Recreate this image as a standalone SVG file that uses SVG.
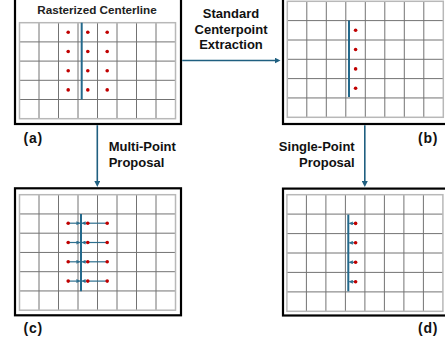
<svg xmlns="http://www.w3.org/2000/svg" width="445" height="343" viewBox="0 0 445 343">
  <style>
    .frame { fill: #ffffff; stroke: #000000; stroke-width: 2.2; }
    .cells { fill: none; stroke: #737373; stroke-width: 1; }
    .edge { fill: none; stroke: #b8b8b8; stroke-width: 1.5; }
    .center { stroke: #23698c; stroke-width: 2; fill: none; }
    .pt { fill: #c00000; }
    .probe { stroke: #2d6f8e; stroke-width: 1.2; fill: none; marker-end: url(#tip-small); }
    .flow { stroke: #1f5f80; stroke-width: 1.6; fill: none; marker-end: url(#tip); }
    .lbl { font-family: "Liberation Sans", Arial, sans-serif; font-weight: bold; font-size: 13px; fill: #111111; }
    .title { font-family: "Liberation Sans", Arial, sans-serif; font-weight: bold; font-size: 11.7px; fill: #222222; }
    .tag { font-family: "Liberation Sans", Arial, sans-serif; font-weight: bold; font-size: 14px; letter-spacing: 0.8px; fill: #111111; }
  </style>
  <defs>
    <marker id="tip" viewBox="0 0 6 6" refX="1" refY="3" markerWidth="6" markerHeight="6" markerUnits="userSpaceOnUse" orient="auto">
      <path d="M0,0 L6,3 L0,6 z" fill="#1f5f80"/>
    </marker>
    <marker id="tip-small" viewBox="0 0 6 6" refX="5" refY="3" markerWidth="4" markerHeight="4" markerUnits="userSpaceOnUse" orient="auto">
      <path d="M0,0 L6,3 L0,6 z" fill="#2d6f8e"/>
    </marker>
  </defs>

  <!-- (a) rasterized centerline with candidate cells -->
  <g id="panel-a">
    <rect class="frame" x="15" y="-10" width="166" height="134"/>
    <text class="title" x="97" y="14.3" text-anchor="middle">Rasterized Centerline</text>
    <path class="cells" d="M39 22.7V118.7M58.5 22.7V118.7M78 22.7V118.7M97.5 22.7V118.7M117 22.7V118.7M136.5 22.7V118.7M156 22.7V118.7M19.5 41.9H175.5M19.5 61.1H175.5M19.5 80.3H175.5M19.5 99.5H175.5"/>
    <rect class="edge" x="19.5" y="22.7" width="156" height="96"/>
    <line class="center" x1="81.7" y1="22.7" x2="81.7" y2="99.5"/>
    <g>
      <circle class="pt" cx="68.2" cy="32.3" r="1.8"/><circle class="pt" cx="87.8" cy="32.3" r="1.8"/><circle class="pt" cx="107.2" cy="32.3" r="1.8"/>
      <circle class="pt" cx="68.2" cy="51.5" r="1.8"/><circle class="pt" cx="87.8" cy="51.5" r="1.8"/><circle class="pt" cx="107.2" cy="51.5" r="1.8"/>
      <circle class="pt" cx="68.2" cy="70.7" r="1.8"/><circle class="pt" cx="87.8" cy="70.7" r="1.8"/><circle class="pt" cx="107.2" cy="70.7" r="1.8"/>
      <circle class="pt" cx="68.2" cy="89.9" r="1.8"/><circle class="pt" cx="87.8" cy="89.9" r="1.8"/><circle class="pt" cx="107.2" cy="89.9" r="1.8"/>
    </g>
    <text class="tag" x="23.5" y="143">(a)</text>
  </g>

  <!-- (b) standard centerpoint extraction -->
  <g id="panel-b">
    <rect class="frame" x="283" y="-10" width="170" height="134"/>
    <path class="cells" d="M306.8 1.3V117.3M326.3 1.3V117.3M345.8 1.3V117.3M365.3 1.3V117.3M384.8 1.3V117.3M404.3 1.3V117.3M423.8 1.3V117.3M287.3 20.6H443.3M287.3 40H443.3M287.3 59.3H443.3M287.3 78.6H443.3M287.3 97.95H443.3"/>
    <rect class="edge" x="287.3" y="1.3" width="156" height="116"/>
    <line class="center" x1="349" y1="20.6" x2="349" y2="97"/>
    <circle class="pt" cx="355.6" cy="30.2" r="1.8"/>
    <circle class="pt" cx="355.6" cy="49.5" r="1.8"/>
    <circle class="pt" cx="355.6" cy="68.9" r="1.8"/>
    <circle class="pt" cx="355.6" cy="88.2" r="1.8"/>
    <text class="tag" x="418" y="143">(b)</text>
  </g>

  <!-- (c) multi-point proposal -->
  <g id="panel-c">
    <rect class="frame" x="15" y="188.3" width="166" height="127"/>
    <path class="cells" d="M39 194.7V310.2M58.5 194.7V310.2M78 194.7V310.2M97.5 194.7V310.2M117 194.7V310.2M136.5 194.7V310.2M156 194.7V310.2M19.5 213.95H175.5M19.5 233.2H175.5M19.5 252.45H175.5M19.5 271.7H175.5M19.5 290.95H175.5"/>
    <rect class="edge" x="19.5" y="194.7" width="156" height="115.5"/>
    <line class="center" x1="81" y1="214" x2="81" y2="291.3"/>
    <g>
      <path class="probe" d="M68.2 223.2H79.8"/><path class="probe" d="M107.2 223.2H82.2"/>
      <path class="probe" d="M68.2 242.5H79.8"/><path class="probe" d="M107.2 242.5H82.2"/>
      <path class="probe" d="M68.2 261.8H79.8"/><path class="probe" d="M107.2 261.8H82.2"/>
      <path class="probe" d="M68.2 281.1H79.8"/><path class="probe" d="M107.2 281.1H82.2"/>
    </g>
    <g>
      <circle class="pt" cx="68.2" cy="223.2" r="1.8"/><circle class="pt" cx="87.8" cy="223.2" r="1.8"/><circle class="pt" cx="107.2" cy="223.2" r="1.8"/>
      <circle class="pt" cx="68.2" cy="242.5" r="1.8"/><circle class="pt" cx="87.8" cy="242.5" r="1.8"/><circle class="pt" cx="107.2" cy="242.5" r="1.8"/>
      <circle class="pt" cx="68.2" cy="261.8" r="1.8"/><circle class="pt" cx="87.8" cy="261.8" r="1.8"/><circle class="pt" cx="107.2" cy="261.8" r="1.8"/>
      <circle class="pt" cx="68.2" cy="281.1" r="1.8"/><circle class="pt" cx="87.8" cy="281.1" r="1.8"/><circle class="pt" cx="107.2" cy="281.1" r="1.8"/>
    </g>
    <text class="tag" x="23.5" y="332.5">(c)</text>
  </g>

  <!-- (d) single-point proposal -->
  <g id="panel-d">
    <rect class="frame" x="283" y="188.6" width="170" height="126.9"/>
    <path class="cells" d="M306.4 194.7V311.3M325.9 194.7V311.3M345.4 194.7V311.3M364.9 194.7V311.3M384.4 194.7V311.3M403.9 194.7V311.3M423.4 194.7V311.3M286.9 214.1H442.9M286.9 233.6H442.9M286.9 253H442.9M286.9 272.4H442.9M286.9 291.9H442.9"/>
    <rect class="edge" x="286.9" y="194.7" width="156" height="116.6"/>
    <line class="center" x1="348.3" y1="214.6" x2="348.3" y2="291.3"/>
    <path class="probe" d="M355.3 223.4H349.5"/>
    <path class="probe" d="M355.3 242.8H349.5"/>
    <path class="probe" d="M355.3 262.3H349.5"/>
    <path class="probe" d="M355.3 281.7H349.5"/>
    <circle class="pt" cx="355.6" cy="223.4" r="1.8"/>
    <circle class="pt" cx="355.6" cy="242.8" r="1.8"/>
    <circle class="pt" cx="355.6" cy="262.3" r="1.8"/>
    <circle class="pt" cx="355.6" cy="281.7" r="1.8"/>
    <text class="tag" x="418" y="332.5">(d)</text>
  </g>

  <!-- transitions between panels -->
  <g id="connectors">
    <path class="flow" d="M182.2 60.5H275.5"/>
    <path class="flow" d="M97.3 125.2V182"/>
    <path class="flow" d="M364.8 125.2V182"/>
    <text class="lbl" x="231" y="18.3" text-anchor="middle">Standard</text>
    <text class="lbl" x="231" y="33.8" text-anchor="middle">Centerpoint</text>
    <text class="lbl" x="231" y="49.3" text-anchor="middle">Extraction</text>
    <text class="lbl" x="108.7" y="151.3">Multi-Point</text>
    <text class="lbl" x="108.7" y="166.7">Proposal</text>
    <text class="lbl" x="354.7" y="151.3" text-anchor="end">Single-Point</text>
    <text class="lbl" x="354.7" y="166.7" text-anchor="end">Proposal</text>
  </g>
</svg>
